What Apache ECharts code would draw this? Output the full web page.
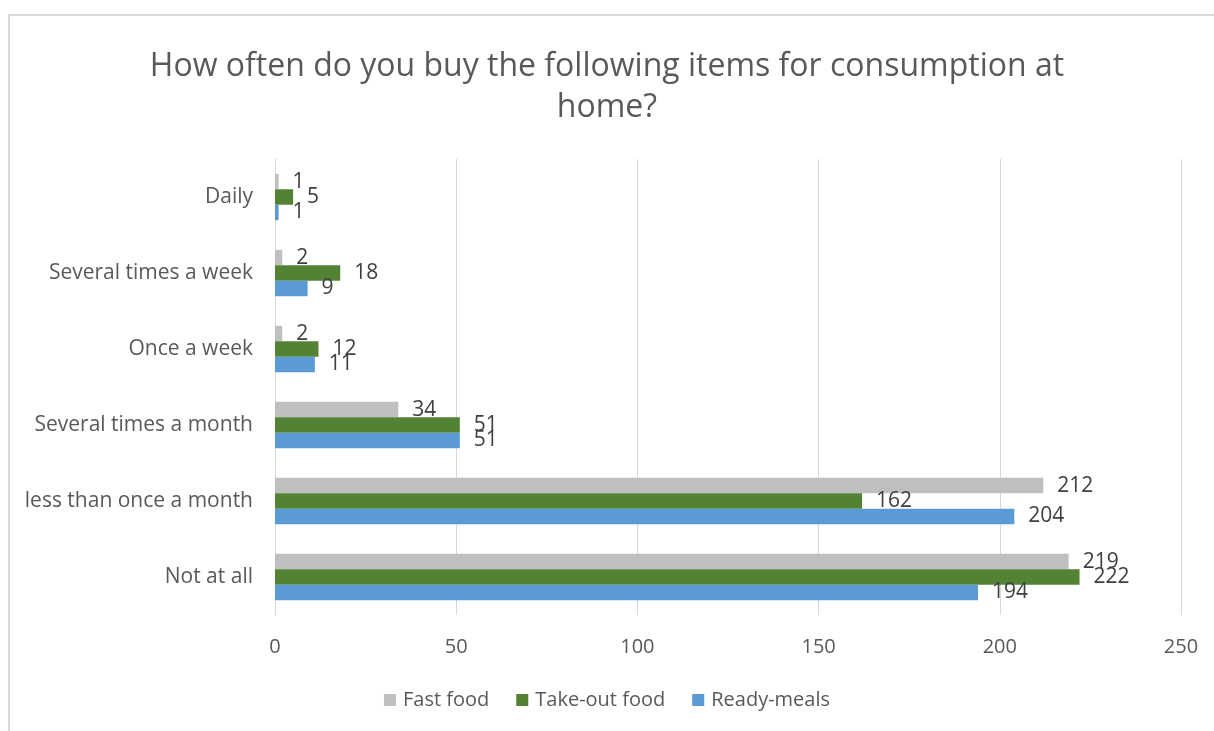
<!DOCTYPE html>
<html>
<head>
<meta charset="utf-8">
<script src="https://cdn.jsdelivr.net/npm/echarts@6/dist/echarts.min.js"></script>
<style>
  html, body { margin: 0; padding: 0; background: #ffffff; }
  #chart { width: 1214px; height: 731px; }
</style>
</head>
<body>
<div id="chart"></div>
<script>
// Response categories, listed bottom to top along the y axis
const categories = ['Not at all', 'less than once a month', 'Several times a month', 'Once a week', 'Several times a week', 'Daily'];

// Number of respondents per frequency
const fastFood = [219, 212, 34, 2, 2, 1];
const takeOutFood = [222, 162, 51, 12, 18, 5];
const readyMeals = [194, 204, 51, 11, 9, 1];

const xTicks = [0, 50, 100, 150, 200, 250];

const FONT = '"Open Sans", "Liberation Sans", sans-serif';

const chart = echarts.init(document.getElementById('chart'));

function barSeries(name, data, color) {
  return {
    name: name,
    type: 'bar',
    data: data,
    barGap: '0%',
    barCategoryGap: '39%',
    itemStyle: { color: color },
    label: {
      show: true,
      position: 'right',
      distance: 14,
      color: '#404040',
      fontFamily: FONT,
      fontSize: 21
    },
    emphasis: { disabled: true }
  };
}

chart.setOption({
  animation: false,
  backgroundColor: '#ffffff',
  title: {
    text: 'How often do you buy the following items for consumption at\nhome?',
    left: 'center',
    top: 41,
    textStyle: {
      fontFamily: FONT,
      fontSize: 32,
      fontWeight: 'normal',
      color: '#595959',
      lineHeight: 41
    }
  },
  legend: {
    data: ['Fast food', 'Take-out food', 'Ready-meals'],
    bottom: 16,
    left: 'center',
    icon: 'rect',
    itemWidth: 12,
    itemHeight: 12,
    itemGap: 27,
    textStyle: { fontFamily: FONT, fontSize: 20, color: '#595959', padding: [0, 0, 0, 2] }
  },
  grid: {
    left: 275,
    right: 33,
    top: 159,
    bottom: 116,
    outerBoundsMode: 'none'
  },
  xAxis: {
    type: 'value',
    min: xTicks[0],
    max: xTicks[xTicks.length - 1],
    interval: 50,
    axisLine: { show: false },
    axisTick: { show: false },
    splitLine: { show: true, lineStyle: { color: '#d9d9d9', width: 1 } },
    axisLabel: {
      margin: 22,
      fontFamily: FONT,
      fontSize: 20,
      color: '#595959'
    }
  },
  yAxis: {
    type: 'category',
    data: categories,
    axisLine: { show: true, lineStyle: { color: '#d9d9d9', width: 1 } },
    axisTick: { show: false },
    axisLabel: {
      margin: 22,
      fontFamily: FONT,
      fontSize: 21,
      color: '#595959'
    }
  },
  series: [
    barSeries('Fast food', fastFood, '#bfbfbf'),
    barSeries('Take-out food', takeOutFood, '#548235'),
    barSeries('Ready-meals', readyMeals, '#5b9bd5')
  ],
  graphic: [{
    type: 'rect',
    shape: { x: 9, y: 15, width: 1260, height: 760 },
    style: { fill: 'none', stroke: '#d9d9d9', lineWidth: 2 },
    silent: true,
    z: -1
  }]
});
</script>
</body>
</html>
